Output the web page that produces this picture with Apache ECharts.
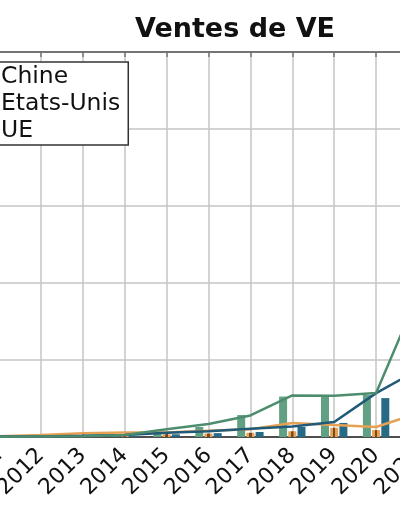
<!DOCTYPE html>
<html>
<head>
<meta charset="utf-8">
<script src="https://cdn.jsdelivr.net/npm/echarts@6/dist/echarts.min.js"></script>
<style>
html,body{margin:0;padding:0;background:#fff;}
#chart{width:400px;height:516px;}
</style>
</head>
<body>
<div id="chart"></div>
<script>
// Years (categories)
var years = ['2011','2012','2013','2014','2015','2016','2017','2018','2019','2020','2021'];
// Sales in thousands — lines
var chineLine = [5, 12, 18, 50, 200, 340, 560, 1080, 1070, 1140, 3700];
var usLine    = [18, 53, 97, 119, 114, 160, 200, 364, 312, 260, 620];
var ueLine    = [10, 15, 30, 55, 110, 150, 215, 270, 390, 1140, 1740];
// Bars
var chineBar = [0, 5, 10, 30, 110, 260, 570, 1050, 1040, 1090, 3000];
var usBar    = [5, 20, 40, 50, 70, 90, 110, 150, 240, 180, 450];
var ueBar    = [2, 5, 10, 30, 70, 100, 130, 260, 365, 1010, 1600];
var yTicks = {min: 0, max: 10000, interval: 2000};

var C_GREEN_LINE = '#4e8c6e', C_GREEN_BAR = '#62a083';
var C_ORANGE = '#e6a155', C_ORANGE_DARK = '#7a4a1e';
var C_BLUE_LINE = '#1f5a78', C_BLUE_BAR = '#266a86';

var chart = echarts.init(document.getElementById('chart'), null, {renderer: 'canvas'});
var FONT = 'DejaVu Sans';
var orangeFill = new echarts.graphic.LinearGradient(0, 0, 1, 0, [
  {offset: 0, color: C_ORANGE}, {offset: 0.34, color: C_ORANGE},
  {offset: 0.36, color: C_ORANGE_DARK}, {offset: 0.64, color: C_ORANGE_DARK},
  {offset: 0.66, color: C_ORANGE}, {offset: 1, color: C_ORANGE}
]);

var option = {
  backgroundColor: '#fff',
  animation: false,
  title: {
    text: 'Ventes de VE',
    left: 130, top: 11,
    textStyle: {fontFamily: FONT, fontWeight: 'bold', fontSize: 27, color: '#111'}
  },
  legend: {
    data: ['Chine', 'Etats-Unis', 'UE'],
    orient: 'vertical',
    left: -34, top: 62,
    itemWidth: 25, itemHeight: 14, itemGap: 0,
    padding: [1, 8, 1, 5],
    borderColor: '#333', borderWidth: 1.5,
    backgroundColor: '#fff',
    z: 20,
    textStyle: {fontFamily: FONT, fontSize: 23.5, lineHeight: 27, color: '#111'}
  },
  grid: {left: -1, top: 52, width: 419, height: 385, containLabel: false, outerBoundsMode: 'none'},
  xAxis: [{
    type: 'category',
    data: years,
    boundaryGap: false,
    axisLine: {show: true, lineStyle: {color: '#222', width: 1.5}},
    axisTick: {show: true, inside: true, length: 3, lineStyle: {color: '#222', width: 1.5}},
    axisLabel: {rotate: 45, margin: 15, fontFamily: FONT, fontSize: 22, color: '#111', interval: 0},
    splitLine: {show: true, lineStyle: {color: '#c4c4c4', width: 1.5}}
  }, {
    type: 'category',
    data: years,
    position: 'top',
    boundaryGap: false,
    axisLine: {show: true, lineStyle: {color: '#555', width: 1.5}},
    axisTick: {show: true, inside: true, length: 5, lineStyle: {color: '#777', width: 1.5}},
    axisLabel: {show: false},
    splitLine: {show: false}
  }],
  yAxis: {
    type: 'value',
    min: yTicks.min, max: yTicks.max, interval: yTicks.interval,
    axisLabel: {show: false},
    axisLine: {show: false},
    axisTick: {show: false},
    splitLine: {show: true, lineStyle: {color: '#c4c4c4', width: 1.5}}
  },
  series: [
    {name: 'Chine', type: 'bar', data: chineBar, barWidth: 8, barGap: '15%', itemStyle: {color: C_GREEN_BAR}, z: 2},
    {name: 'Etats-Unis', type: 'bar', data: usBar, barWidth: 8, barGap: '15%', itemStyle: {color: orangeFill}, z: 2},
    {name: 'UE', type: 'bar', data: ueBar, barWidth: 8, barGap: '15%', itemStyle: {color: C_BLUE_BAR}, z: 2},
    {name: 'Etats-Unis', type: 'line', data: usLine, showSymbol: false, symbol: 'none', lineStyle: {color: C_ORANGE, width: 2.5}, itemStyle: {color: C_ORANGE}, z: 5},
    {name: 'UE', type: 'line', data: ueLine, showSymbol: false, symbol: 'none', lineStyle: {color: C_BLUE_LINE, width: 2.5}, itemStyle: {color: C_BLUE_LINE}, z: 6},
    {name: 'Chine', type: 'line', data: chineLine, showSymbol: false, symbol: 'none', lineStyle: {color: C_GREEN_LINE, width: 2.5}, itemStyle: {color: C_GREEN_LINE}, z: 7}
  ]
};
chart.setOption(option);
</script>
</body>
</html>
